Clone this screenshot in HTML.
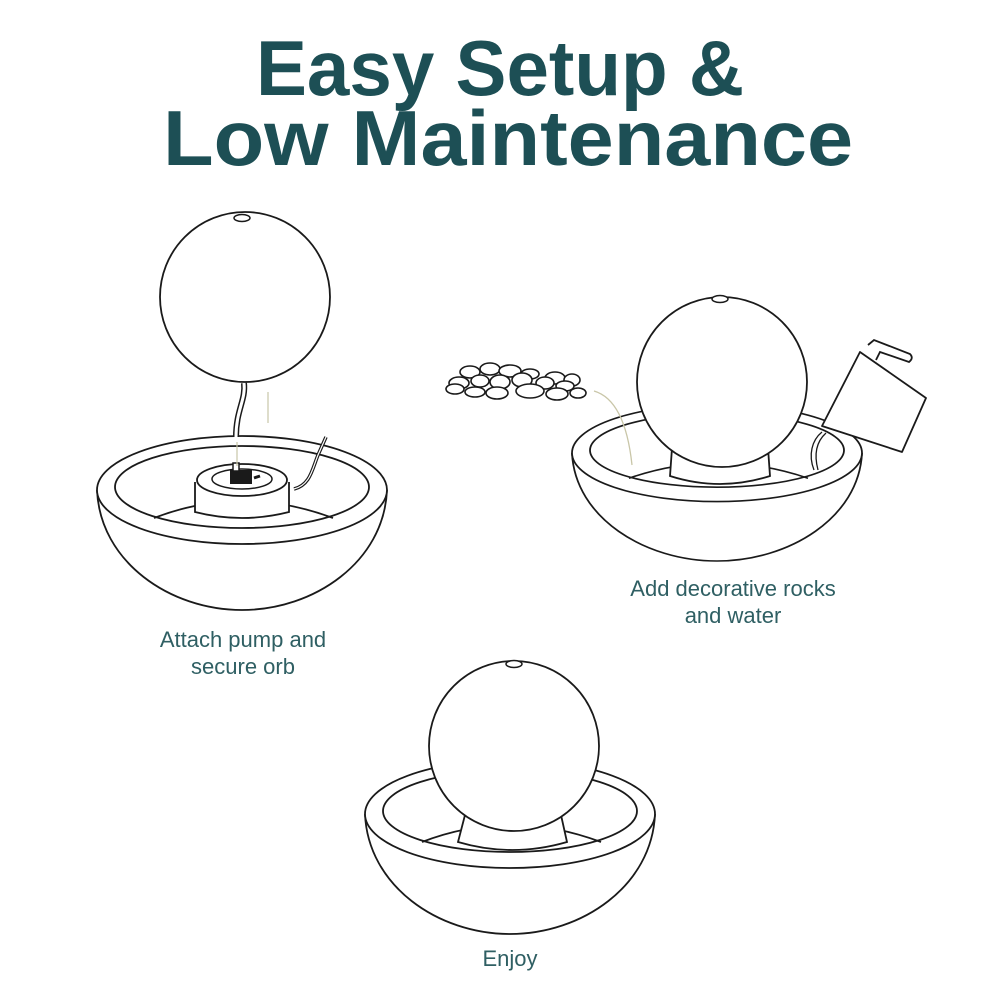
<!DOCTYPE html>
<html><head><style>
html,body{margin:0;padding:0;background:#fff;}
svg{display:block;}
</style></head><body>
<svg width="1000" height="1000" viewBox="0 0 1000 1000" xmlns="http://www.w3.org/2000/svg">
<defs>
<g id="bowl">
  <path d="M-145,0 C-142,72 -72,120 0,120 C72,120 142,72 145,0" fill="#fff" stroke="#1a1a1a" stroke-width="1.8"/>
  <ellipse cx="0" cy="0" rx="145" ry="54" fill="#fff" stroke="#1a1a1a" stroke-width="1.8"/>
  <ellipse cx="0" cy="-3" rx="127" ry="41" fill="#fff" stroke="#1a1a1a" stroke-width="1.8"/>
  <path d="M-88,28 Q0,-6 91,28" fill="none" stroke="#1a1a1a" stroke-width="1.8"/>
</g>
</defs>

<text x="500" y="95" text-anchor="middle" font-family="Liberation Sans, sans-serif" font-weight="bold" font-size="78" fill="#1d4f55" textLength="488" lengthAdjust="spacingAndGlyphs">Easy Setup &amp;</text>
<text x="508" y="165" text-anchor="middle" font-family="Liberation Sans, sans-serif" font-weight="bold" font-size="78" fill="#1d4f55" textLength="690" lengthAdjust="spacingAndGlyphs">Low Maintenance</text>

<!-- Step 1 -->
<g transform="translate(242,490)">
  <use href="#bowl"/>
  <path d="M-47,-8 L-47,22 Q0,34 47,22 L47,-8" fill="#fff" stroke="#1a1a1a" stroke-width="1.8"/>
  <ellipse cx="0" cy="-10" rx="45" ry="16" fill="#fff" stroke="#1a1a1a" stroke-width="1.8"/>
  <ellipse cx="0" cy="-11" rx="30" ry="10" fill="none" stroke="#1a1a1a" stroke-width="1.5"/>
  <rect x="-12" y="-20" width="22" height="14" fill="#1a1a1a"/>
  <rect x="-9" y="-27" width="6" height="8" fill="#fff" stroke="#1a1a1a" stroke-width="1.5"/>
  <path d="M12,-12 L18,-14" stroke="#1a1a1a" stroke-width="3"/>
</g>
<path d="M294,489 C310,485 312,470 318,455 L326,437" fill="none" stroke="#1a1a1a" stroke-width="3.5"/>
<path d="M294,489 C310,485 312,470 318,455 L326,437" fill="none" stroke="#fff" stroke-width="1.2"/>
<line x1="237" y1="442" x2="237" y2="466" stroke="#c9c6a8" stroke-width="1.2"/>
<line x1="268" y1="392" x2="268" y2="423" stroke="#c9c6a8" stroke-width="1.2"/>
<path d="M244,383 C246,400 236,410 236,437" fill="none" stroke="#1a1a1a" stroke-width="6"/>
<path d="M244,383 C246,400 236,410 236,437" fill="none" stroke="#fff" stroke-width="3"/>
<circle cx="245" cy="297" r="85" fill="#fff" stroke="#1a1a1a" stroke-width="1.8"/>
<ellipse cx="242" cy="218" rx="8" ry="3.5" fill="#fff" stroke="#1a1a1a" stroke-width="1.5"/>
<text x="243" y="647" text-anchor="middle" font-family="Liberation Sans, sans-serif" font-size="22" fill="#2f5f63">Attach pump and</text>
<text x="243" y="674" text-anchor="middle" font-family="Liberation Sans, sans-serif" font-size="22" fill="#2f5f63">secure orb</text>

<!-- Step 2 -->
<g transform="translate(717,453) scale(1,0.9)">
  <use href="#bowl"/>
</g>
<path d="M672,448 L670,476 Q720,492 770,476 L768,448" fill="#fff" stroke="#1a1a1a" stroke-width="1.8"/>
<circle cx="722" cy="382" r="85" fill="#fff" stroke="#1a1a1a" stroke-width="1.8"/>
<ellipse cx="720" cy="299" rx="8" ry="3.5" fill="#fff" stroke="#1a1a1a" stroke-width="1.5"/>
<path d="M594,391 Q625,400 632,465" fill="none" stroke="#c9c6a8" stroke-width="1.3"/>
<!-- water -->
<path d="M814,470 C808,455 812,440 822,432 M818,470 C814,455 816,442 826,433" fill="none" stroke="#1a1a1a" stroke-width="1.3"/>
<!-- pitcher -->
<path d="M868,345 L874,340 L910,354 Q914,358 909,362 L880,352 L876,360" fill="#fff" stroke="#1a1a1a" stroke-width="1.8"/>
<path d="M860,352 L926,398 L902,452 L822,426 Z" fill="#fff" stroke="#1a1a1a" stroke-width="1.8" stroke-linejoin="round"/>
<!-- rocks -->
<g fill="#fff" stroke="#1a1a1a" stroke-width="1.6">
  <ellipse cx="470" cy="372" rx="10" ry="6"/><ellipse cx="490" cy="369" rx="10" ry="6"/><ellipse cx="510" cy="371" rx="11" ry="6"/>
  <ellipse cx="530" cy="374" rx="9" ry="5"/><ellipse cx="555" cy="378" rx="10" ry="6"/><ellipse cx="572" cy="380" rx="8" ry="6"/>
  <ellipse cx="459" cy="383" rx="10" ry="6"/><ellipse cx="480" cy="381" rx="9" ry="6"/><ellipse cx="500" cy="382" rx="10" ry="7"/>
  <ellipse cx="522" cy="380" rx="10" ry="7"/><ellipse cx="545" cy="383" rx="9" ry="6"/><ellipse cx="565" cy="386" rx="9" ry="5"/>
  <ellipse cx="455" cy="389" rx="9" ry="5"/><ellipse cx="475" cy="392" rx="10" ry="5"/><ellipse cx="497" cy="393" rx="11" ry="6"/>
  <ellipse cx="530" cy="391" rx="14" ry="7"/><ellipse cx="557" cy="394" rx="11" ry="6"/><ellipse cx="578" cy="393" rx="8" ry="5"/>
</g>
<text x="733" y="596" text-anchor="middle" font-family="Liberation Sans, sans-serif" font-size="22" fill="#2f5f63">Add decorative rocks</text>
<text x="733" y="623" text-anchor="middle" font-family="Liberation Sans, sans-serif" font-size="22" fill="#2f5f63">and water</text>

<!-- Step 3 -->
<g transform="translate(510,814)">
  <use href="#bowl"/>
</g>
<path d="M465,815 L458,842 Q512,858 567,842 L561,815" fill="#fff" stroke="#1a1a1a" stroke-width="1.8"/>
<circle cx="514" cy="746" r="85" fill="#fff" stroke="#1a1a1a" stroke-width="1.8"/>
<ellipse cx="514" cy="664" rx="8" ry="3.5" fill="#fff" stroke="#1a1a1a" stroke-width="1.5"/>
<text x="510" y="966" text-anchor="middle" font-family="Liberation Sans, sans-serif" font-size="22" fill="#2f5f63">Enjoy</text>
</svg>
</body></html>
